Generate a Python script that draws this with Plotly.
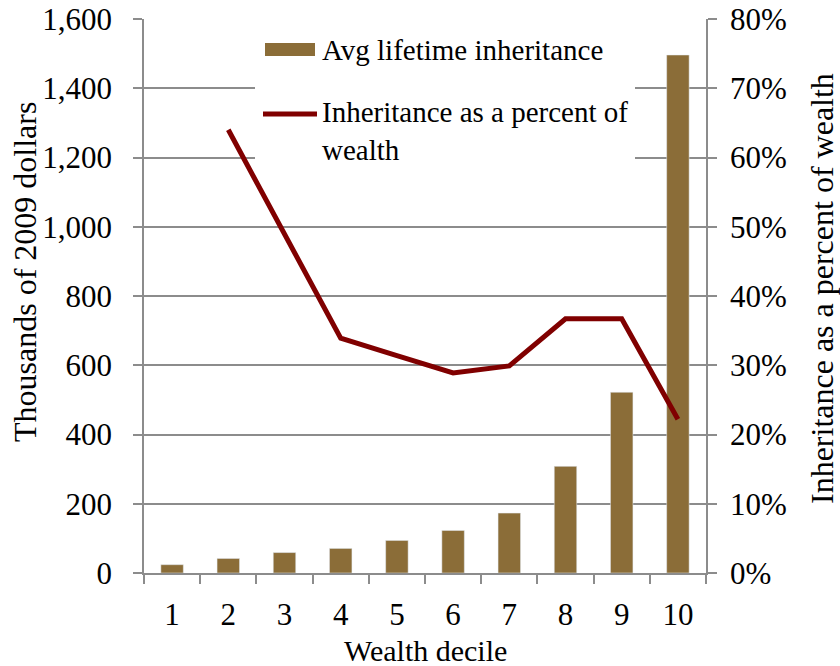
import plotly.graph_objects as go

deciles = ["1", "2", "3", "4", "5", "6", "7", "8", "9", "10"]
avg_inheritance = [24, 42, 59, 71, 94, 123, 173, 308, 522, 1496]
pct_of_wealth = [None, 0.640, 0.489, 0.339, 0.314, 0.289, 0.299, 0.367, 0.367, 0.222]

left_ticks = [0, 200, 400, 600, 800, 1000, 1200, 1400, 1600]
right_ticks = [0, 0.1, 0.2, 0.3, 0.4, 0.5, 0.6, 0.7, 0.8]

bar_name = "Avg lifetime inheritance"
line_name = "Inheritance as a percent of<br>wealth"
x_title = "Wealth decile"
y_title = "Thousands of 2009 dollars"
y2_title = "Inheritance as a percent of wealth"

BAR_COLOR = "#8B6D38"
LINE_COLOR = "#800000"
AXIS_COLOR = "#8c8c8c"
FONT = "Liberation Serif, Times New Roman, Tinos, serif"
FS_TICK = 31
FS_LEG = 29
FS_TITLE = 32

W, H = 840, 666
L, T = 144, 19
PW, PH = 562, 554
R, B = W - L - PW, H - T - PH


def px(x):
    return (x - L) / PW


def py(y):
    return (T + PH - y) / PH


fig = go.Figure()
fig.add_trace(go.Bar(x=deciles, y=avg_inheritance, marker_color=BAR_COLOR,
                     name=bar_name, showlegend=False))
fig.add_trace(go.Scatter(x=deciles, y=pct_of_wealth, yaxis="y2", mode="lines",
                         line=dict(color=LINE_COLOR, width=5), name=line_name,
                         showlegend=False))

common = dict(ticks="outside", ticklen=9, tickcolor=AXIS_COLOR, tickwidth=1.5,
              showline=True, linecolor=AXIS_COLOR, linewidth=1.5,
              automargin=False, tickfont=dict(size=FS_TICK),
              ticklabeloverflow="allow")

fig.update_layout(
    width=W, height=H,
    margin=dict(l=L, r=R, t=T, b=B, pad=0),
    paper_bgcolor="white", plot_bgcolor="white",
    font=dict(family=FONT, size=FS_TICK, color="black"),
    bargap=0.6,
    xaxis=dict(type="category", tickson="boundaries", showgrid=False,
               ticklabelstandoff=13, **common),
    yaxis=dict(range=[0, 1600], tickvals=left_ticks, tickformat=",d",
               showgrid=True, gridcolor=AXIS_COLOR, gridwidth=1.5,
               zeroline=False, ticklabelstandoff=15, **common),
    yaxis2=dict(overlaying="y", side="right", range=[0, 0.8],
                tickvals=right_ticks, tickformat=".0%", showgrid=False,
                zeroline=False, ticklabelstandoff=7, **common),
)

# axis titles
fig.add_annotation(xref="paper", yref="paper", x=px(425), y=py(650),
                   xanchor="center", yanchor="middle", showarrow=False,
                   text=x_title, font=dict(size=30))
fig.add_annotation(xref="paper", yref="paper", x=px(25), y=py(272),
                   xanchor="center", yanchor="middle", showarrow=False,
                   text=y_title, textangle=-90, font=dict(size=FS_TITLE))
fig.add_annotation(xref="paper", yref="paper", x=px(822), y=py(289),
                   xanchor="center", yanchor="middle", showarrow=False,
                   text=y2_title, textangle=-90, font=dict(size=FS_TITLE))

# custom legend (white box covering gridlines, swatches, labels)
fig.add_shape(type="rect", xref="paper", yref="paper",
              x0=px(255), x1=px(635), y0=py(168), y1=py(20),
              fillcolor="white", line_width=0, layer="above")
fig.add_shape(type="rect", xref="paper", yref="paper",
              x0=px(265), x1=px(315), y0=py(56), y1=py(43),
              fillcolor=BAR_COLOR, line_width=0, layer="above")
fig.add_shape(type="line", xref="paper", yref="paper",
              x0=px(263), x1=px(317), y0=py(114), y1=py(114),
              line=dict(color=LINE_COLOR, width=5), layer="above")
fig.add_annotation(xref="paper", yref="paper", x=px(320), y=py(50),
                   xanchor="left", yanchor="middle", showarrow=False,
                   text=bar_name, font=dict(size=FS_LEG), align="left")
fig.add_annotation(xref="paper", yref="paper", x=px(320), y=py(131),
                   xanchor="left", yanchor="middle", showarrow=False,
                   text=line_name, font=dict(size=FS_LEG), align="left")

fig.write_html("out.html",
               config={"displayModeBar": False},
               post_script="document.body.style.margin='0';"
                           "document.body.style.overflow='hidden';")
